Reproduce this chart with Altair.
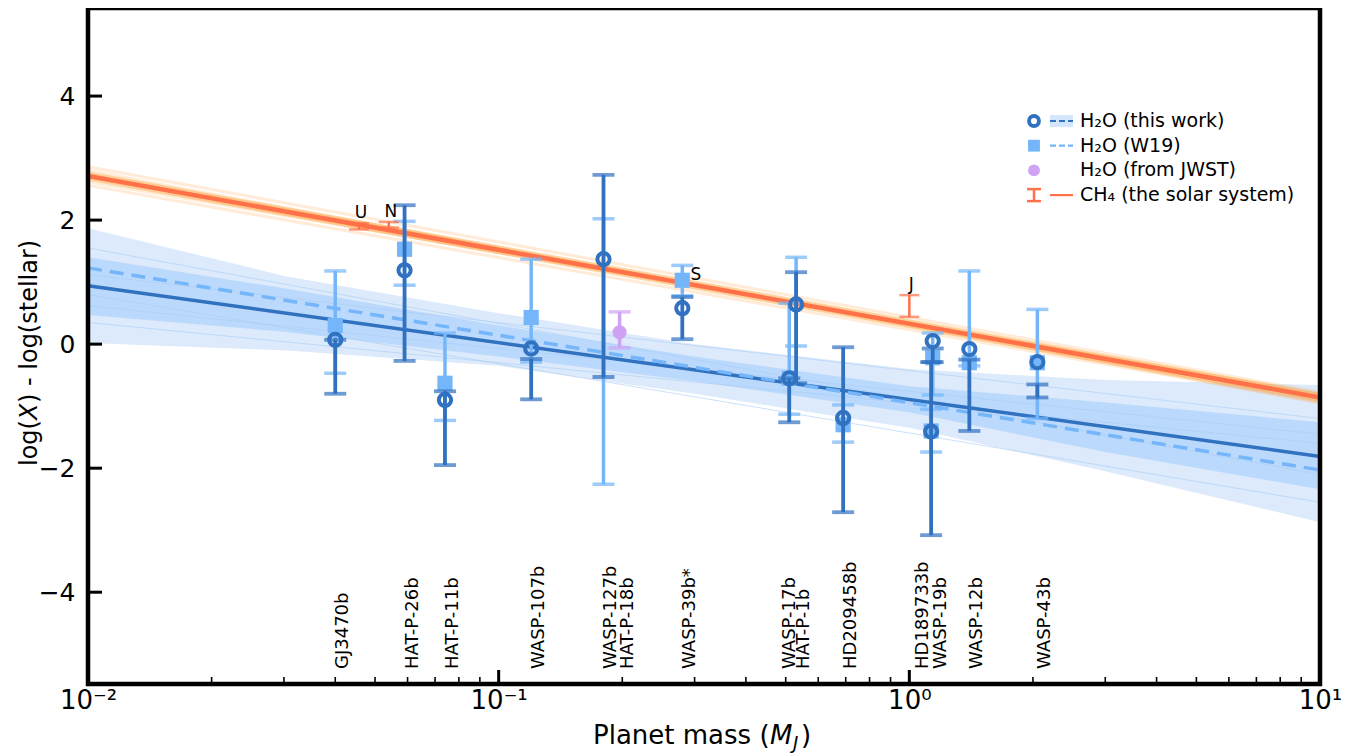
import altair as alt
import pandas as pd

# ---------------- data ----------------
planets = ["GJ3470b", "HAT-P-26b", "HAT-P-11b", "WASP-107b", "WASP-127b", "HAT-P-18b",
           "WASP-39b*", "WASP-17b", "HAT-P-1b", "HD209458b", "HD189733b", "WASP-19b",
           "WASP-12b", "WASP-43b"]
mass = [0.040, 0.059, 0.074, 0.12, 0.18, 0.197, 0.28, 0.51, 0.53, 0.69, 1.13, 1.14, 1.40, 2.05]

# H2O (this work)
tw_val = [0.07, 1.19, -0.90, -0.07, 1.37, None, 0.58, -0.55, 0.64, -1.19, -1.41, 0.05, -0.08, -0.29]
tw_lo = [-0.80, -0.27, -1.95, -0.89, -0.53, None, 0.08, -1.26, -0.63, -2.71, -3.08, -0.29, -1.40, -0.86]
tw_hi = [0.07, 2.24, -0.76, -0.24, 2.73, None, 0.76, -0.55, 1.16, -0.05, -0.29, -0.07, -0.25, -0.65]

# H2O (W19)
w19_val = [0.30, 1.53, -0.63, 0.43, None, None, 1.03, -0.55, None, -1.30, -1.40, -0.22, -0.30, -0.30]
w19_lo = [-0.47, 0.95, -1.23, -0.29, -2.26, None, 0.78, -1.13, -0.03, -1.58, -1.74, -0.82, -0.35, -1.20]
w19_hi = [1.18, 1.98, 0.18, 1.37, 2.02, None, 1.27, 0.66, 1.40, -0.98, -1.05, 0.18, 1.18, 0.56]

# H2O (from JWST)
jw_mass = [0.197]
jw_val = [0.19]
jw_lo = [-0.06]
jw_hi = [0.52]

# CH4 (the solar system)
solar_names = ["U", "N", "S", "J"]
solar_mass = [0.0457, 0.0540, 0.299, 1.0]
ch4_lo = [1.85, 1.88, None, 0.44]
ch4_hi = [1.95, 1.97, 0.95, 0.79]

# fitted trends (values at the two ends of the mass range)
fit_mass = [0.01, 10.0]
fit_tw = [0.94, -1.81]
fit_w19 = [1.23, -2.03]
fit_ch4 = [2.71, -0.86]

# posterior sample lines (end values)
ch4_s_left = [2.56, 2.62, 2.67, 2.75, 2.80, 2.86]
ch4_s_right = [-0.93, -0.80, -0.90, -0.82, -0.95, -0.78]
tw_s_left = [0.62, 0.80, 1.12, 1.55, 0.35]
tw_s_right = [-1.45, -2.55, -1.20, -2.10, -1.60]

# credible bands
band_mass = [0.01, 0.03, 0.1, 0.3, 1.0, 3.0, 10.0]
outer_lo = [0.02, -0.10, -0.35, -0.80, -1.35, -2.05, -2.87]
outer_hi = [1.87, 1.10, 0.50, 0.00, -0.40, -0.58, -0.66]
inner_lo = [0.47, 0.20, -0.20, -0.60, -1.10, -1.74, -2.34]
inner_hi = [1.40, 0.90, 0.30, -0.20, -0.68, -0.94, -1.26]

# axes ticks
x_major = [0.01, 0.1, 1.0, 10.0]
x_minor = [0.02, 0.03, 0.04, 0.05, 0.06, 0.07, 0.08, 0.09,
           0.2, 0.3, 0.4, 0.5, 0.6, 0.7, 0.8, 0.9,
           2, 3, 4, 5, 6, 7, 8, 9]
y_major = [-4, -2, 0, 2, 4]

legend_labels = ["H\u2082O (this work)", "H\u2082O (W19)", "H\u2082O (from JWST)", "CH\u2084 (the solar system)"]
x_title = ["Planet mass (", "M", "J", ")"]
y_title = ["log(", "X", ") - log(stellar)"]

# ---------------- styling ----------------
DARK = "#3071c0"
LIGHT = "#74b6f9"
PURPLE = "#cfa2f4"
ORANGE = "#ff7149"
GLOW = "#ffa64a"
OUTER = "#dceafb"
INNER = "#b5d6fb"
FONT = "DejaVu Sans"

W, H = 1232, 676
xs = alt.Scale(type="log", domain=[0.01, 10], nice=False)
ys = alt.Scale(domain=[-5.48, 5.42], nice=False, zero=False)

xaxis = alt.Axis(values=x_major, ticks=False, domain=False, grid=False, labelFlush=False,
                 labelExpr="datum.value < 0.05 ? '10\u207b\u00b2' : datum.value < 0.5 ? '10\u207b\u00b9' : datum.value < 5 ? '10\u2070' : '10\u00b9'",
                 labelFontSize=26, labelFont=FONT, labelColor="black", labelPadding=3, title=None)
yaxis = alt.Axis(values=y_major, ticks=False, domain=False, grid=False, labelFlush=False,
                 labelFontSize=25, labelFont=FONT, labelColor="black", labelPadding=13, title=None)


def X(f):
    return alt.X(f, type="quantitative", scale=xs, axis=xaxis)


def Y(f):
    return alt.Y(f, type="quantitative", scale=ys, axis=yaxis)


# ---------------- tables ----------------
pl = pd.DataFrame({"planet": planets, "mass": mass,
                   "tw": tw_val, "tw_lo": tw_lo, "tw_hi": tw_hi,
                   "w19": w19_val, "w19_lo": w19_lo, "w19_hi": w19_hi})
band = pd.DataFrame({"mass": band_mass, "olo": outer_lo, "ohi": outer_hi,
                     "ilo": inner_lo, "ihi": inner_hi})
fits = pd.DataFrame({"mass": fit_mass, "tw": fit_tw, "w19": fit_w19, "ch4": fit_ch4})
ch4_samples = pd.DataFrame(
    [{"k": i, "mass": fit_mass[0], "v": l} for i, l in enumerate(ch4_s_left)] +
    [{"k": i, "mass": fit_mass[1], "v": r} for i, r in enumerate(ch4_s_right)])
tw_samples = pd.DataFrame(
    [{"k": i, "mass": fit_mass[0], "v": l} for i, l in enumerate(tw_s_left)] +
    [{"k": i, "mass": fit_mass[1], "v": r} for i, r in enumerate(tw_s_right)])
jw = pd.DataFrame({"mass": jw_mass, "v": jw_val, "lo": jw_lo, "hi": jw_hi})
sol = pd.DataFrame({"name": solar_names, "mass": solar_mass, "lo": ch4_lo, "hi": ch4_hi})
xt = pd.DataFrame({"v": x_major})
xm = pd.DataFrame({"v": x_minor})
yt = pd.DataFrame({"v": y_major})

layers = []

# bands
layers.append(alt.Chart(band).mark_area(color=OUTER, opacity=1).encode(x=X("mass"), y=Y("olo"), y2="ohi"))
layers.append(alt.Chart(band).mark_area(color=INNER, opacity=0.85).encode(x=X("mass"), y=Y("ilo"), y2="ihi"))
layers.append(alt.Chart(tw_samples).mark_line(color="#a9cdf6", strokeWidth=1, opacity=0.6).encode(
    x=X("mass"), y=Y("v"), detail="k:N"))
# fits
layers.append(alt.Chart(fits).mark_line(color=DARK, strokeWidth=3.5).encode(x=X("mass"), y=Y("tw")))
layers.append(alt.Chart(fits).mark_line(color=LIGHT, strokeWidth=3.5, strokeDash=[14, 8]).encode(x=X("mass"), y=Y("w19")))
layers.append(alt.Chart(ch4_samples).mark_line(color=GLOW, strokeWidth=3, opacity=0.22).encode(
    x=X("mass"), y=Y("v"), detail="k:N"))
layers.append(alt.Chart(fits).mark_line(color="#ffa83d", strokeWidth=9, opacity=0.4).encode(x=X("mass"), y=Y("ch4")))
layers.append(alt.Chart(fits).mark_line(color=ORANGE, strokeWidth=4.5).encode(x=X("mass"), y=Y("ch4")))

# W19 error bars and squares
w19b = alt.Chart(pl).transform_filter("datum.w19_lo != null")
layers.append(w19b.mark_rule(color=LIGHT, strokeWidth=3.5).encode(x=X("mass"), y=Y("w19_lo"), y2="w19_hi"))
layers.append(w19b.mark_tick(color=LIGHT, orient="horizontal", size=22, thickness=3.5).encode(x=X("mass"), y=Y("w19_lo")))
layers.append(w19b.mark_tick(color=LIGHT, orient="horizontal", size=22, thickness=3.5).encode(x=X("mass"), y=Y("w19_hi")))
layers.append(alt.Chart(pl).transform_filter("datum.w19 != null").mark_point(
    shape="square", filled=True, color=LIGHT, size=230, opacity=1).encode(x=X("mass"), y=Y("w19")))

# this work
twb = alt.Chart(pl).transform_filter("datum.tw_lo != null")
layers.append(twb.mark_rule(color=DARK, strokeWidth=3.8).encode(x=X("mass"), y=Y("tw_lo"), y2="tw_hi"))
layers.append(twb.mark_tick(color=DARK, orient="horizontal", size=22, thickness=3.8).encode(x=X("mass"), y=Y("tw_lo")))
layers.append(twb.mark_tick(color=DARK, orient="horizontal", size=22, thickness=3.8).encode(x=X("mass"), y=Y("tw_hi")))
layers.append(alt.Chart(pl).transform_filter("datum.tw != null").mark_point(
    shape="circle", filled=False, color=DARK, size=150, strokeWidth=4, opacity=1).encode(x=X("mass"), y=Y("tw")))

# JWST
layers.append(alt.Chart(jw).mark_rule(color=PURPLE, strokeWidth=3.5).encode(x=X("mass"), y=Y("lo"), y2="hi"))
layers.append(alt.Chart(jw).mark_tick(color=PURPLE, orient="horizontal", size=22, thickness=3.5).encode(x=X("mass"), y=Y("lo")))
layers.append(alt.Chart(jw).mark_tick(color=PURPLE, orient="horizontal", size=22, thickness=3.5).encode(x=X("mass"), y=Y("hi")))
layers.append(alt.Chart(jw).mark_point(shape="circle", filled=True, color=PURPLE, size=200, opacity=1).encode(x=X("mass"), y=Y("v")))

# solar system CH4
solb = alt.Chart(sol).transform_filter("datum.lo != null")
layers.append(solb.mark_rule(color=ORANGE, strokeWidth=2.5).encode(x=X("mass"), y=Y("lo"), y2="hi"))
layers.append(solb.mark_tick(color=ORANGE, orient="horizontal", size=20, thickness=2.5).encode(x=X("mass"), y=Y("lo")))
layers.append(solb.mark_tick(color=ORANGE, orient="horizontal", size=20, thickness=2.5).encode(x=X("mass"), y=Y("hi")))
layers.append(alt.Chart(sol).mark_text(font=FONT, fontSize=17, color="black", baseline="bottom", dy=-1, dx=2).encode(
    x=X("mass"), y=Y("hi"), text="name:N"))

# planet names (two names are nudged left in the reference)
nudged = {"WASP-17b": 7, "HD189733b": 16}
lab_base = dict(font=FONT, fontSize=18, color="black", angle=270, align="left", baseline="top")
plain = [p for p in planets if p not in nudged]
LAB_Y = H - 15
layers.append(alt.Chart(pl).transform_filter(alt.FieldOneOfPredicate(field="planet", oneOf=plain)).mark_text(
    dy=-1, **lab_base).encode(x=X("mass"), y=alt.value(LAB_Y), text="planet:N"))
for name, shift in nudged.items():
    layers.append(alt.Chart(pl).transform_filter(alt.FieldEqualPredicate(field="planet", equal=name)).mark_text(
        dy=-1 - shift, **lab_base).encode(x=X("mass"), y=alt.value(LAB_Y), text="planet:N"))

# ticks (inward)
layers.append(alt.Chart(xt).mark_rule(color="black", strokeWidth=3).encode(x=X("v"), y=alt.value(H), y2=alt.value(H - 14)))
layers.append(alt.Chart(xm).mark_rule(color="black", strokeWidth=1.6).encode(x=X("v"), y=alt.value(H), y2=alt.value(H - 7)))
layers.append(alt.Chart(yt).mark_rule(color="black", strokeWidth=3).encode(y=Y("v"), x=alt.value(0), x2=alt.value(14)))

one = pd.DataFrame({"a": [0]})
# frame
layers.append(alt.Chart(one).mark_rect(filled=False, stroke="black", strokeWidth=4.5).encode(
    x=alt.value(0), x2=alt.value(W), y=alt.value(0), y2=alt.value(H)))

# axis titles (italic symbols kept as text pieces)
xt_font = 26
layers.append(alt.Chart(one).mark_text(font=FONT, fontSize=xt_font, color="black", align="left", baseline="alphabetic").encode(
    x=alt.value(505), y=alt.value(736), text=alt.value(x_title[0])))
layers.append(alt.Chart(one).mark_text(font=FONT, fontSize=xt_font, fontStyle="italic", color="black", align="left", baseline="alphabetic").encode(
    x=alt.value(682), y=alt.value(736), text=alt.value(x_title[1])))
layers.append(alt.Chart(one).mark_text(font=FONT, fontSize=18, fontStyle="italic", color="black", align="left", baseline="alphabetic").encode(
    x=alt.value(705), y=alt.value(741), text=alt.value(x_title[2])))
layers.append(alt.Chart(one).mark_text(font=FONT, fontSize=xt_font, color="black", align="left", baseline="alphabetic").encode(
    x=alt.value(713), y=alt.value(736), text=alt.value(x_title[3])))

yt_font = 24
ybase = 466 - 8
layers.append(alt.Chart(one).mark_text(font=FONT, fontSize=yt_font, color="black", angle=270, align="left", baseline="middle").encode(
    x=alt.value(-58), y=alt.value(ybase), text=alt.value(y_title[0])))
layers.append(alt.Chart(one).mark_text(font=FONT, fontSize=yt_font, fontStyle="italic", color="black", angle=270, align="left", baseline="middle").encode(
    x=alt.value(-58), y=alt.value(ybase - 46), text=alt.value(y_title[1])))
layers.append(alt.Chart(one).mark_text(font=FONT, fontSize=yt_font, color="black", angle=270, align="left", baseline="middle").encode(
    x=alt.value(-58), y=alt.value(ybase - 63), text=alt.value(y_title[2])))

# legend
lx, ly, dyr = 946, 113, 24.7
leg = []
leg.append(alt.Chart(one).mark_rect(color="#d3e6fc").encode(x=alt.value(lx + 16), x2=alt.value(lx + 39),
                                                             y=alt.value(ly - 6), y2=alt.value(ly + 6)))
leg.append(alt.Chart(one).mark_rule(color=DARK, strokeWidth=2.2, strokeDash=[6, 3]).encode(
    x=alt.value(lx + 16), x2=alt.value(lx + 39), y=alt.value(ly)))
leg.append(alt.Chart(one).mark_point(shape="circle", filled=False, color=DARK, size=100, strokeWidth=3.8, opacity=1).encode(
    x=alt.value(lx), y=alt.value(ly)))
leg.append(alt.Chart(one).mark_rule(color=LIGHT, strokeWidth=2.2, strokeDash=[6, 3]).encode(
    x=alt.value(lx + 16), x2=alt.value(lx + 39), y=alt.value(ly + dyr)))
leg.append(alt.Chart(one).mark_point(shape="square", filled=True, color=LIGHT, size=140, opacity=1).encode(
    x=alt.value(lx), y=alt.value(ly + dyr)))
leg.append(alt.Chart(one).mark_point(shape="circle", filled=True, color=PURPLE, size=140, opacity=1).encode(
    x=alt.value(lx), y=alt.value(ly + 2 * dyr)))
y4 = ly + 3 * dyr
leg.append(alt.Chart(one).mark_rule(color=ORANGE, strokeWidth=2.2).encode(
    x=alt.value(lx + 16), x2=alt.value(lx + 39), y=alt.value(y4)))
leg.append(alt.Chart(one).mark_rule(color=ORANGE, strokeWidth=2.5).encode(
    x=alt.value(lx), y=alt.value(y4 - 6), y2=alt.value(y4 + 6)))
leg.append(alt.Chart(one).mark_rule(color=ORANGE, strokeWidth=2.5).encode(
    x=alt.value(lx - 7), x2=alt.value(lx + 7), y=alt.value(y4 - 6)))
leg.append(alt.Chart(one).mark_rule(color=ORANGE, strokeWidth=2.5).encode(
    x=alt.value(lx - 7), x2=alt.value(lx + 7), y=alt.value(y4 + 6)))
for i, lab in enumerate(legend_labels):
    leg.append(alt.Chart(pd.DataFrame({"t": [lab]})).mark_text(
        font=FONT, fontSize=19, color="black", align="left", baseline="middle").encode(
        x=alt.value(lx + 46), y=alt.value(ly + i * dyr), text="t:N"))

chart = alt.layer(*layers, *leg).properties(
    width=W, height=H,
    autosize=alt.AutoSizeParams(type="none"),
    padding={"left": 80, "top": 0, "right": 30, "bottom": 69},
    background="white",
).configure_view(stroke=None)

chart.save("out.html", embed_options={"renderer": "svg", "actions": False})
